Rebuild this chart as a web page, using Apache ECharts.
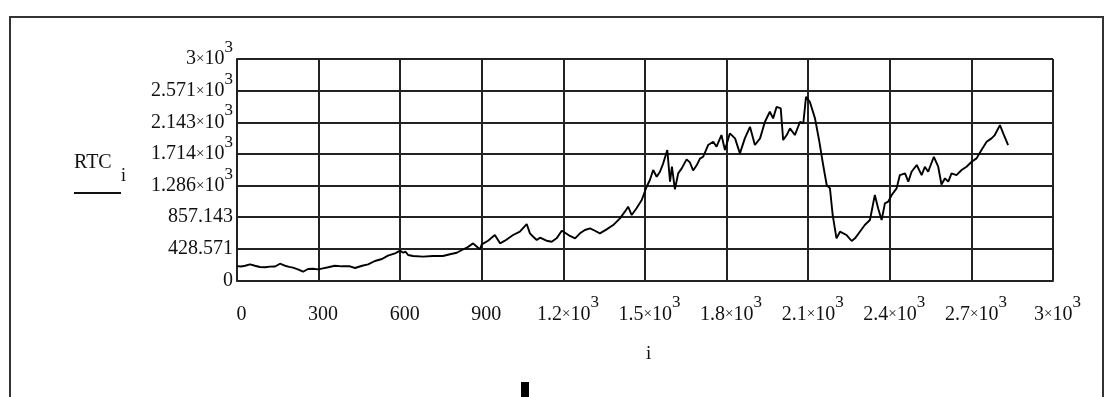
<!DOCTYPE html>
<html>
<head>
<meta charset="utf-8">
<title>RTC</title>
<script src="https://cdn.jsdelivr.net/npm/echarts@6/dist/echarts.min.js"></script>
<style>
  html, body { margin: 0; padding: 0; background: #fff; }
  #chart { width: 1113px; height: 397px; }
</style>
</head>
<body>
<div id="chart"></div>
<script>
// Sample index i and the RTC value at that index
const idx = [
  0, 15, 30, 48, 66, 84, 103, 121, 140, 158, 176, 192, 206, 224, 243, 261, 280, 298, 316, 335,
  360, 386, 415, 434, 460, 482, 507, 533, 555, 581, 600, 611, 620, 629, 647, 684, 720, 757, 783, 808,
  827, 845, 868, 882, 893, 900, 923, 948, 967, 985, 1015, 1040, 1065, 1077, 1089, 1102, 1114, 1138, 1157, 1175,
  1194, 1206, 1224, 1243, 1261, 1279, 1298, 1316, 1334, 1359, 1383, 1408, 1426, 1438, 1451, 1469, 1488, 1506, 1518, 1530,
  1543, 1555, 1567, 1582, 1592, 1599, 1610, 1622, 1635, 1653, 1665, 1677, 1690, 1702, 1714, 1732, 1751, 1763, 1781, 1794,
  1812, 1831, 1849, 1867, 1886, 1904, 1923, 1941, 1959, 1971, 1984, 1999, 2008, 2021, 2033, 2051, 2070, 2082, 2092, 2106,
  2125, 2140, 2155, 2168, 2180, 2190, 2198, 2204, 2217, 2229, 2241, 2260, 2272, 2290, 2308, 2327, 2345, 2357, 2370, 2382,
  2394, 2407, 2425, 2437, 2456, 2468, 2480, 2499, 2517, 2529, 2541, 2562, 2578, 2590, 2603, 2615, 2627, 2645, 2664, 2682,
  2701, 2719, 2737, 2756, 2774, 2786, 2805, 2817, 2835
];
const rtc = [
  195, 190, 200, 219, 200, 183, 180, 188, 190, 227, 200, 185, 175, 152, 119, 156, 160, 150, 165, 179,
  200, 192, 192, 169, 200, 219, 264, 291, 336, 368, 404, 376, 390, 345, 332, 323, 332, 332, 355, 376,
  413, 444, 503, 458, 422, 490, 539, 616, 503, 539, 616, 661, 765, 639, 593, 548, 580, 539, 525, 571,
  674, 647, 603, 571, 639, 684, 707, 674, 639, 693, 751, 842, 932, 999, 887, 978, 1090, 1270, 1361, 1496,
  1405, 1473, 1587, 1767, 1338, 1541, 1235, 1451, 1519, 1641, 1600, 1490, 1560, 1650, 1676, 1835, 1879, 1812, 1970, 1767,
  1993, 1925, 1722, 1925, 2082, 1835, 1925, 2150, 2286, 2196, 2353, 2331, 1902, 1970, 2061, 1970, 2150, 2128, 2489, 2421,
  2196, 1900, 1564, 1293, 1248, 887, 707, 571, 661, 639, 616, 535, 571, 661, 751, 819, 1158, 978, 819, 1045,
  1067, 1158, 1248, 1428, 1451, 1338, 1473, 1564, 1428, 1541, 1473, 1676, 1541, 1300, 1384, 1338, 1451, 1428, 1496, 1541,
  1609, 1654, 1767, 1879, 1925, 1970, 2105, 1993, 1835
];

// Axis ranges and tick labels ("^" marks the exponent)
const X_MAX = 3000, X_STEP = 300;
const Y_MAX = 3000, Y_DIV = 7;
const xTickLabels = ['0', '300', '600', '900', '1.2×10^3', '1.5×10^3', '1.8×10^3', '2.1×10^3', '2.4×10^3', '2.7×10^3', '3×10^3'];
const yTickLabels = ['0', '428.571', '857.143', '1.286×10^3', '1.714×10^3', '2.143×10^3', '2.571×10^3', '3×10^3'];

const FONT = '"Liberation Serif", "Times New Roman", serif';
const INK = '#111';

function toRich(s) {
  if (s == null) return '';
  if (s.indexOf('×10^') < 0) return '{n|' + s + '}';
  const parts = s.split('×10^');
  return '{n|' + parts[0] + '}{x|×}{n|10}{s|' + parts[1] + '}';
}

const richStyles = {
  n: { fontFamily: FONT, fontSize: 20, lineHeight: 40, color: INK },
  x: { fontFamily: FONT, fontSize: 15, lineHeight: 40, color: INK },
  s: { fontFamily: FONT, fontSize: 17, lineHeight: 17, verticalAlign: 'top', color: INK }
};

const chart = echarts.init(document.getElementById('chart'), null, { renderer: 'canvas' });

chart.setOption({
  backgroundColor: '#fff',
  animation: false,
  grid: { left: 237, right: 60, top: 59, bottom: 116.5, containLabel: false },
  xAxis: {
    type: 'value',
    min: 0, max: X_MAX, interval: X_STEP,
    axisLine: { show: true, lineStyle: { color: '#222', width: 2 } },
    axisTick: { show: false },
    splitLine: { show: true, lineStyle: { color: '#222', width: 2 } },
    axisLabel: {
      margin: 14,
      padding: [0, 0, 0, 9],
      showMinLabel: true, showMaxLabel: true,
      formatter: v => toRich(xTickLabels[Math.round(v / X_STEP)]),
      rich: richStyles
    }
  },
  yAxis: {
    type: 'value',
    min: 0, max: Y_MAX, interval: Y_MAX / Y_DIV,
    axisLine: { show: true, lineStyle: { color: '#222', width: 2 } },
    axisTick: { show: false },
    splitLine: { show: true, lineStyle: { color: '#222', width: 2 } },
    axisLabel: {
      margin: 4,
      showMinLabel: true, showMaxLabel: true,
      formatter: v => toRich(yTickLabels[Math.round(v * Y_DIV / Y_MAX)]),
      rich: richStyles
    }
  },
  series: [{
    type: 'line',
    data: idx.map((x, k) => [x, rtc[k]]),
    showSymbol: false,
    smooth: false,
    lineStyle: { color: '#000', width: 1.9 }
  }],
  graphic: [
    // outer frame around the plot region
    {
      type: 'polyline', silent: true,
      shape: { points: [[10, 397], [10, 17], [1103, 17], [1103, 397]] },
      style: { stroke: '#333', lineWidth: 2, fill: null }
    },
    // y-axis expression RTC_i with its underline
    {
      type: 'text', left: 74, top: 153, silent: true,
      style: { text: 'RTC', font: '20px ' + FONT, fill: INK }
    },
    {
      type: 'text', left: 121, top: 167, silent: true,
      style: { text: 'i', font: '18px ' + FONT, fill: INK }
    },
    {
      type: 'line', silent: true,
      shape: { x1: 74, y1: 193, x2: 121, y2: 193 },
      style: { stroke: INK, lineWidth: 2 }
    },
    // x-axis variable
    {
      type: 'text', left: 646, top: 345, silent: true,
      style: { text: 'i', font: '19px ' + FONT, fill: INK }
    },
    // text cursor at the bottom edge
    {
      type: 'rect', silent: true,
      shape: { x: 521, y: 382, width: 8, height: 15 },
      style: { fill: '#000' }
    }
  ]
});
</script>
</body>
</html>
